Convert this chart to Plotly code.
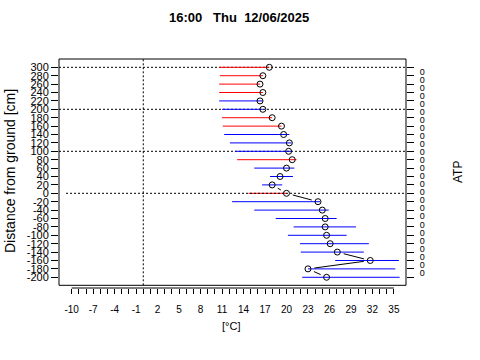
import math
import plotly.graph_objects as go

# ---------------- data ----------------
heights = [300, 280, 260, 240, 220, 200, 180, 160, 140, 120, 100, 80, 60, 40, 20, 0,
           -20, -40, -60, -80, -100, -120, -140, -160, -180, -200]
current = [17.6, 16.7, 16.3, 16.7, 16.3, 16.7, 18.0, 19.3, 19.6, 20.4, 20.3, 20.8, 20.0,
           19.1, 18.0, 20.0, 24.4, 25.0, 25.4, 25.4, 25.6, 26.1, 27.1, 31.7, 23.0, 25.6]
t_min = [10.6, 10.7, 10.6, 10.6, 10.6, 11.0, 11.0, 11.1, 11.3, 12.1, 12.8, 13.1, 15.5,
         17.7, 16.6, 14.7, 12.4, 15.5, 18.5, 21.0, 20.2, 21.9, 22.0, 26.8, 23.0, 22.2]
t_max = [17.6, 16.7, 16.3, 16.7, 16.7, 16.7, 18.0, 19.3, 20.4, 20.7, 20.7, 21.4, 21.1,
         20.9, 19.4, 20.0, 24.7, 25.9, 27.0, 29.7, 28.4, 31.5, 30.8, 35.7, 35.2, 35.8]
range_color = ["red", "red", "red", "red", "blue", "blue", "red", "red", "blue", "blue",
               "blue", "red", "blue", "blue", "blue", "red", "blue", "blue", "blue", "blue",
               "blue", "blue", "blue", "blue", "blue", "blue"]
atp_labels = ["0"] * len(heights)
x_ticks = list(range(-10, 36))
x_ticktext = [str(v) if (v + 10) % 3 == 0 else "" for v in x_ticks]
title_text = "16:00\u00a0\u00a0\u00a0Thu\u00a0\u00a012/06/2025"

# ---------------- layout geometry ----------------
W, H = 480, 360
ML, MR, MT, MB = 59, 74, 59, 72
PW, PH = W - ML - MR, H - MT - MB
XR = [-11.77, 36.69]
YR = [-225.5, 319.8]
YR_LAB = [-238.0, 330.8]

def px_x(p):  # pixel -> paper x
    return (p - ML) / PW

def px_y(p):  # pixel -> paper y
    return (H - MB - p) / PH

sx = PW / (XR[1] - XR[0])
sy = PH / (YR[1] - YR[0])

fig = go.Figure()

# range lines
for col, css in (("red", "#ff0000"), ("blue", "#0000ff")):
    xs, ys = [], []
    for h, a, b, c in zip(heights, t_min, t_max, range_color):
        if c == col:
            xs += [a, b, None]
            ys += [h, h, None]
    fig.add_trace(go.Scatter(x=xs, y=ys, mode="lines", line=dict(color=css, width=1),
                             hoverinfo="skip", showlegend=False))

# connecting line with gaps around points (like type="b")
gap = 6.5
cx, cy = [], []
for i in range(len(heights) - 1):
    x1, y1, x2, y2 = current[i], heights[i], current[i + 1], heights[i + 1]
    L = math.hypot((x2 - x1) * sx, (y2 - y1) * sy)
    if L > 2 * gap:
        t0, t1 = gap / L, 1 - gap / L
        cx += [x1 + (x2 - x1) * t0, x1 + (x2 - x1) * t1, None]
        cy += [y1 + (y2 - y1) * t0, y1 + (y2 - y1) * t1, None]
fig.add_trace(go.Scatter(x=cx, y=cy, mode="lines", line=dict(color="black", width=1),
                         hoverinfo="skip", showlegend=False))

# points
fig.add_trace(go.Scatter(x=current, y=heights, mode="markers",
                         marker=dict(symbol="circle-open", size=6, color="black",
                                     line=dict(width=1, color="black")),
                         showlegend=False))

# dummy traces for right axes
fig.add_trace(go.Scatter(x=[0], y=[0], yaxis="y2", mode="markers",
                         marker=dict(opacity=0), hoverinfo="skip", showlegend=False))
fig.add_trace(go.Scatter(x=[0], y=[0], yaxis="y3", mode="markers",
                         marker=dict(opacity=0), hoverinfo="skip", showlegend=False))

shapes = []
dot = "2px,2px"
for g in (300, 200, 100):
    shapes.append(dict(type="line", xref="paper", yref="y", x0=0, x1=1, y0=g, y1=g,
                       line=dict(color="black", width=1, dash=dot), layer="below"))
shapes.append(dict(type="line", xref="paper", yref="y", x0=px_x(66), x1=1, y0=0, y1=0,
                   line=dict(color="black", width=1, dash=dot), layer="above"))
shapes.append(dict(type="line", xref="x", yref="paper", x0=0, x1=0, y0=px_y(285.3), y1=1,
                   line=dict(color="black", width=1, dash=dot), layer="below"))
# frame
shapes.append(dict(type="rect", xref="paper", yref="paper", x0=0, x1=1, y0=px_y(285.3), y1=1,
                   line=dict(color="black", width=1), fillcolor="rgba(0,0,0,0)", layer="above"))
# x axis line
shapes.append(dict(type="line", xref="x", yref="paper", x0=x_ticks[0], x1=x_ticks[-1], y0=0, y1=0,
                   line=dict(color="black", width=1), layer="above"))

FONT = "Liberation Sans, Arial, sans-serif"
annotations = [
    dict(text="<b>" + title_text + "</b>", xref="paper", yref="paper", x=px_x(239), y=px_y(17),
         xanchor="center", yanchor="middle",
         showarrow=False, font=dict(size=13, color="black", family=FONT)),
    dict(text="Distance from ground [cm]", xref="paper", yref="paper", x=px_x(10), y=px_y(171),
         xanchor="center", yanchor="middle",
         showarrow=False, textangle=-90, font=dict(size=14, color="black", family=FONT)),
    dict(text="[°C]", xref="paper", yref="paper", x=px_x(231), y=px_y(326),
         xanchor="center", yanchor="middle",
         showarrow=False, font=dict(size=11, color="black", family=FONT)),
    dict(text="ATP", xref="paper", yref="paper", x=px_x(458), y=px_y(172),
         xanchor="center", yanchor="middle",
         showarrow=False, textangle=-90, font=dict(size=12, color="black", family=FONT)),
]

fig.update_layout(
    width=W, height=H,
    margin=dict(l=ML, r=MR, t=MT, b=MB, pad=0, autoexpand=False),
    paper_bgcolor="white", plot_bgcolor="white",
    font=dict(family=FONT, color="black"),
    shapes=shapes, annotations=annotations,
    xaxis=dict(range=XR, tickmode="array", tickvals=x_ticks, ticktext=x_ticktext,
               ticks="outside", ticklen=5, tickcolor="black", tickwidth=1,
               showgrid=False, zeroline=False, showline=False,
               tickfont=dict(size=10, family=FONT, color="black"), ticklabelstandoff=7,
               fixedrange=True),
    yaxis=dict(range=YR, tickmode="array", tickvals=heights, ticktext=[str(h) for h in heights],
               ticks="outside", ticklen=7, tickcolor="black", tickwidth=1,
               showgrid=False, zeroline=False, showline=False,
               tickfont=dict(size=11, family=FONT, color="black"), fixedrange=True),
    yaxis2=dict(range=YR, overlaying="y", side="right", tickmode="array", tickvals=heights,
                ticks="outside", ticklen=7, tickcolor="black", tickwidth=1,
                showticklabels=False, showgrid=False, zeroline=False, showline=False,
                fixedrange=True),
    yaxis3=dict(range=YR_LAB, overlaying="y", side="right", tickmode="array", tickvals=heights,
                ticktext=atp_labels, ticks="outside", ticklen=11, tickcolor="rgba(0,0,0,0)",
                showgrid=False, zeroline=False, showline=False,
                tickfont=dict(size=9, family=FONT, color="#000000"), fixedrange=True),
)

fig.write_html("out.html", config={"displayModeBar": False})
